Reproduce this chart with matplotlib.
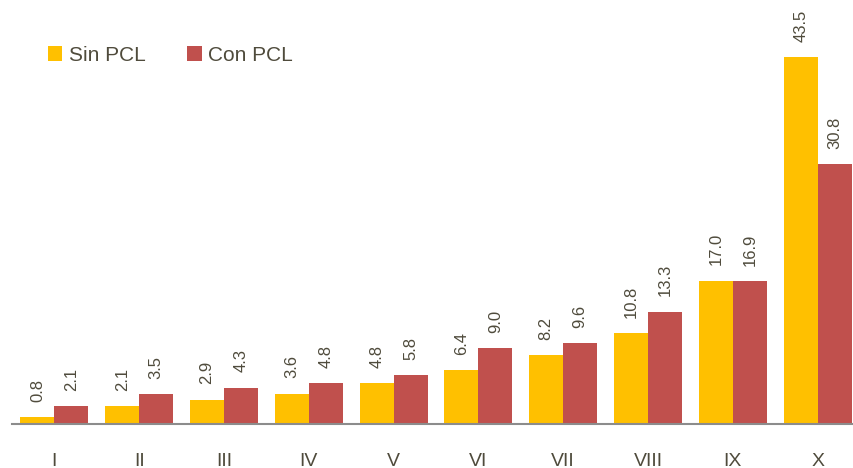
import numpy as np
import matplotlib.pyplot as plt

plt.rcParams['font.family'] = ['Liberation Sans', 'DejaVu Sans']

# Datos
deciles = ['I', 'II', 'III', 'IV', 'V', 'VI', 'VII', 'VIII', 'IX', 'X']
sin_pcl = [0.8, 2.1, 2.9, 3.6, 4.8, 6.4, 8.2, 10.8, 17.0, 43.5]
con_pcl = [2.1, 3.5, 4.3, 4.8, 5.8, 9.0, 9.6, 13.3, 16.9, 30.8]

color_sin = '#FFC000'
color_con = '#C0504D'
color_txt = '#4F4B3C'

fig = plt.figure(figsize=(8.54, 4.68), dpi=100)
ax = fig.add_axes([12 / 854, 44 / 468, 848 / 854, 422 / 468])

x = np.arange(len(deciles))
w = 0.4
b1 = ax.bar(x - w / 2, sin_pcl, w, color=color_sin, label='Sin PCL')
b2 = ax.bar(x + w / 2, con_pcl, w, color=color_con, label='Con PCL')

# Etiquetas de valores
for barras, vals in [(b1, sin_pcl), (b2, con_pcl)]:
    for r, v in zip(barras, vals):
        ax.annotate(f'{v:.1f}', (r.get_x() + r.get_width() / 2, v),
                    xytext=(0, 11), textcoords='offset points',
                    rotation=90, ha='center', va='bottom',
                    fontsize=12, color=color_txt)

ax.set_xlim(-0.5, 9.5)
ax.set_ylim(0, 50)
ax.set_xticks(x)
ax.set_xticklabels(deciles, fontsize=14, color=color_txt)
ax.tick_params(axis='x', length=0, pad=21)
ax.set_yticks([])

for s in ['top', 'right', 'left']:
    ax.spines[s].set_visible(False)
ax.spines['bottom'].set_color('#8C8C8C')
ax.spines['bottom'].set_linewidth(1.5)

leg = ax.legend(loc='upper left', bbox_to_anchor=(0.02, 0.94), ncol=2,
                frameon=False, fontsize=15, handlelength=0.7, handleheight=0.7,
                handletextpad=0.3, columnspacing=2.0, labelcolor=color_txt)

fig.savefig('out.png', dpi=100)
